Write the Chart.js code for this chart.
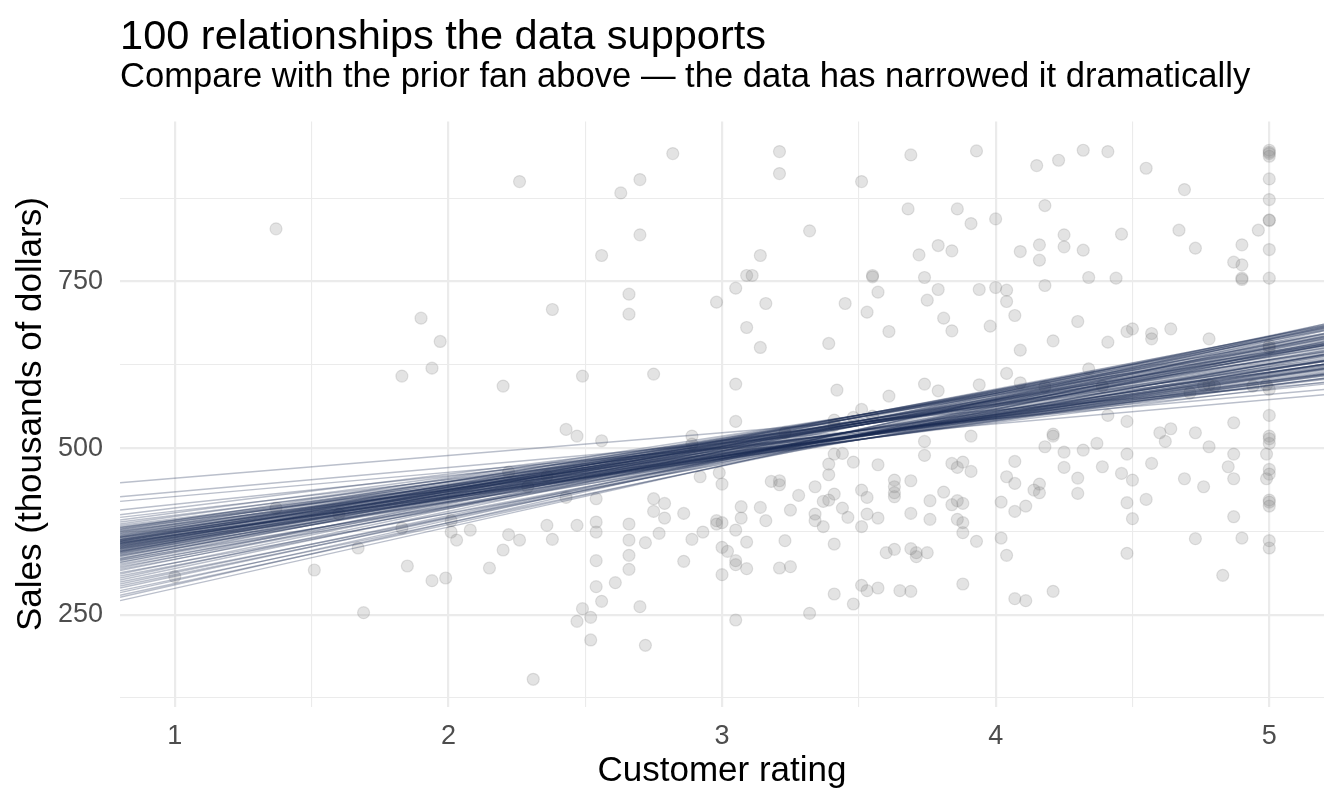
<!DOCTYPE html>
<html>
<head>
<meta charset="utf-8">
<title>100 relationships the data supports</title>
<script src="https://cdn.jsdelivr.net/npm/chart.js@4.4.1/dist/chart.umd.min.js"></script>
<style>
    html, body { margin: 0; padding: 0; background: #ffffff; }
    #chart { display: block; }
</style>
</head>
<body>
<canvas id="chart" width="1344" height="806"></canvas>
<script>
// observed stores: customer rating vs sales (thousands of dollars)
const ratingX = [
    2.26, 1.37, 1.90, 1.97, 1.94, 1.83, 2.20, 1.37, 1.00, 1.51,
    1.60, 1.67, 1.69, 1.83, 1.85, 1.94, 1.99, 2.01, 2.01, 2.03,
    2.08, 2.15, 2.20, 2.22, 2.26, 2.22, 2.29, 2.31, 2.36, 2.43,
    2.54, 2.82, 2.70, 2.63, 3.21, 3.21, 3.69, 3.51, 3.68, 2.70,
    3.32, 2.56, 3.14, 3.72, 3.09, 3.11, 3.55, 3.55, 3.74, 3.05,
    3.57, 3.75, 2.38, 2.66, 2.66, 2.98, 3.16, 3.45, 3.53, 3.09,
    3.61, 3.14, 3.39, 2.49, 2.75, 3.05, 3.42, 3.61, 3.74, 2.43,
    2.47, 2.56, 2.89, 2.89, 3.05, 3.23, 3.41, 3.41, 3.48, 3.55,
    3.51, 2.92, 2.99, 3.00, 3.39, 3.39, 3.41, 3.44, 3.48, 3.57,
    3.74, 3.74, 3.18, 3.21, 3.21, 3.34, 3.28, 3.51, 3.53, 3.63,
    3.63, 3.63, 3.63, 3.69, 3.76, 2.75, 2.79, 2.75, 2.79, 2.86,
    3.07, 3.07, 3.14, 3.16, 3.25, 3.34, 3.34, 3.37, 3.39, 3.41,
    3.44, 3.46, 3.37, 3.53, 3.57, 3.51, 3.69, 3.76, 2.36, 2.47,
    2.54, 2.54, 2.66, 2.38, 2.66, 2.72, 2.77, 2.89, 2.93, 2.98,
    2.98, 3.00, 3.05, 3.09, 3.23, 3.41, 3.00, 3.02, 3.05, 3.05,
    3.09, 3.21, 3.25, 3.00, 2.54, 2.66, 2.66, 2.86, 2.54, 2.61,
    2.56, 2.49, 2.47, 2.52, 2.52, 2.70, 2.72, 3.05, 3.32, 3.41,
    3.48, 3.51, 3.53, 3.57, 3.65, 3.69, 3.60, 3.63, 3.69, 3.71,
    3.71, 3.75, 3.93, 4.15, 4.23, 4.32, 4.41, 4.55, 4.69, 5.00,
    5.00, 5.00, 5.00, 5.00, 5.00, 5.00, 5.00, 5.00, 5.00, 5.00,
    5.00, 5.00, 4.99, 5.00, 3.86, 3.91, 4.00, 4.18, 3.79, 3.84,
    4.09, 4.16, 4.16, 4.25, 4.25, 4.32, 4.46, 4.67, 4.73, 4.90,
    4.96, 4.87, 4.90, 4.90, 4.90, 3.79, 3.94, 4.00, 4.04, 4.04,
    4.18, 4.34, 4.44, 3.81, 3.84, 3.98, 4.07, 4.30, 4.09, 4.21,
    4.41, 4.48, 4.50, 4.57, 4.57, 4.64, 4.78, 4.34, 3.79, 3.94,
    4.04, 4.09, 4.18, 4.39, 4.71, 4.78, 4.80, 4.94, 4.41, 4.48,
    4.87, 4.76, 3.91, 4.21, 4.21, 4.18, 4.25, 4.32, 4.37, 4.48,
    4.60, 4.64, 4.62, 4.73, 4.78, 4.87, 4.99, 5.00, 5.00, 5.00,
    3.84, 3.86, 3.88, 3.91, 4.07, 4.04, 4.07, 4.14, 4.16, 4.16,
    4.25, 4.30, 4.30, 4.39, 4.46, 4.50, 4.57, 4.69, 4.76, 4.85,
    4.87, 4.99, 5.00, 5.00, 5.00, 5.00, 5.00, 4.48, 4.55, 4.50,
    4.87, 3.81, 3.84, 3.86, 3.88, 3.86, 3.88, 3.88, 3.93, 4.02,
    4.07, 4.11, 4.02, 4.04, 4.48, 4.73, 4.90, 5.00, 5.00, 4.83,
    3.88, 4.07, 4.11, 4.21
];
const salesY = [
    900, 829, 695, 660, 620, 608, 593, 410, 307, 317,
    401, 350, 253, 380, 323, 301, 305, 391, 374, 362,
    377, 320, 347, 370, 362, 464, 442, 153, 458, 426,
    424, 942, 903, 883, 945, 912, 940, 900, 859, 820,
    826, 789, 789, 790, 759, 759, 759, 757, 756, 740,
    734, 722, 708, 731, 701, 719, 717, 717, 704, 681,
    675, 651, 657, 608, 611, 596, 587, 578, 596, 528,
    518, 511, 518, 506, 540, 523, 542, 534, 546, 548,
    558, 457, 463, 446, 476, 460, 491, 492, 479, 475,
    510, 489, 450, 451, 445, 442, 429, 437, 426, 452,
    442, 433, 427, 451, 421, 424, 417, 405, 395, 402,
    412, 395, 411, 391, 407, 401, 391, 420, 422, 431,
    410, 396, 382, 401, 395, 382, 402, 393, 384, 384,
    389, 374, 386, 363, 362, 358, 372, 363, 374, 391,
    386, 388, 377, 359, 361, 356, 351, 345, 331, 325,
    319, 320, 322, 310, 331, 339, 318, 330, 292, 298,
    270, 259, 240, 246, 212, 262, 204, 242, 252, 281,
    266, 294, 286, 290, 286, 285, 343, 348, 349, 343,
    337, 343, 946, 924, 932, 947, 945, 920, 888, 947,
    944, 942, 938, 904, 873, 842, 842, 798, 755, 654,
    650, 588, 595, 549, 859, 837, 844, 864, 804, 796,
    795, 805, 782, 820, 802, 797, 821, 827, 800, 805,
    827, 779, 775, 755, 753, 738, 738, 741, 737, 720,
    744, 756, 755, 695, 676, 683, 699, 690, 647, 661,
    659, 675, 679, 672, 664, 679, 664, 619, 586, 595,
    612, 598, 592, 593, 583, 595, 593, 593, 549, 540,
    538, 594, 518, 518, 521, 502, 494, 497, 507, 491,
    523, 529, 510, 523, 502, 491, 491, 518, 514, 507,
    477, 471, 479, 465, 480, 457, 447, 437, 446, 433,
    471, 455, 432, 472, 462, 452, 477, 454, 442, 472,
    454, 454, 468, 461, 422, 419, 413, 418, 423, 394,
    397, 434, 415, 421, 417, 393, 388, 373, 360, 419,
    405, 413, 365, 339, 342, 364, 365, 361, 350, 309,
    296, 274, 271, 285
];

// 100 fitted lines: sales at the left (rating 0.8) and right (rating 5.2) panel edges
const lineEnds = [0.8, 5.2];
const drawLeft = [
    448, 427, 420, 407, 400, 396, 392, 389, 386, 384,
    271, 276, 279, 283, 286, 290, 293, 296, 299, 302,
    305, 308, 311, 313, 316, 318, 320, 322, 324, 326,
    328, 329, 331, 332, 334, 335, 337, 338, 339, 340,
    341, 342, 343, 344, 345, 346, 347, 348, 349, 350,
    350, 351, 352, 353, 353, 354, 355, 355, 356, 357,
    357, 358, 359, 359, 360, 361, 361, 362, 363, 363,
    364, 365, 366, 366, 367, 368, 369, 370, 371, 372,
    373, 374, 375, 376, 377, 378, 379, 380, 381, 382,
    333, 346, 352, 358, 362, 367, 344, 356, 360, 349
];
const drawRight = [
    598, 588, 580, 596, 624, 603, 630, 611, 633, 608,
    676, 686, 668, 682, 660, 678, 664, 672, 655, 680,
    686, 654, 680, 638, 682, 657, 684, 641, 666, 640,
    684, 640, 667, 626, 671, 647, 683, 631, 657, 631,
    676, 632, 659, 619, 664, 640, 677, 624, 651, 625,
    670, 626, 654, 613, 659, 635, 672, 620, 646, 621,
    666, 622, 649, 609, 655, 630, 668, 615, 642, 617,
    661, 618, 645, 605, 650, 626, 663, 610, 637, 611,
    656, 612, 639, 599, 644, 619, 657, 604, 631, 605,
    681, 630, 654, 610, 653, 626, 679, 619, 644, 626
];

const xTicks = [1, 2, 3, 4, 5];
const xMinor = [1.5, 2.5, 3.5, 4.5];
const yTicks = [250, 500, 750];
const yMinor = [125, 375, 625, 875];

const FONT = "'Liberation Sans', Arial, Helvetica, sans-serif";
Chart.defaults.font.family = FONT;

let datasets = [];

// fitted lines first so they are drawn over the points
for (let i = 0; i < drawLeft.length; i++) {
    datasets.push({
        data: [
            { x: lineEnds[0], y: drawLeft[i] },
            { x: lineEnds[1], y: drawRight[i] }
        ],
        showLine: true,
        borderColor: 'rgba(28, 42, 82, 0.3)',
        borderWidth: 1.4,
        pointRadius: 0,
        pointHoverRadius: 0,
        fill: false
    });
}

let points = [];
for (let i = 0; i < ratingX.length; i++) {
    points.push({ x: ratingX[i], y: salesY[i] });
}
datasets.push({
    data: points,
    pointRadius: 6,
    pointHoverRadius: 6,
    backgroundColor: 'rgba(127, 127, 127, 0.22)',
    borderColor: 'rgba(127, 127, 127, 0.22)',
    borderWidth: 1.2
});

function gridWidth(major) {
    return function(ctx) {
        if (!ctx.tick) return 0;
        return major.includes(ctx.tick.value) ? 2.2 : 1.1;
    };
}

new Chart(document.getElementById('chart'), {
    type: 'scatter',
    data: { datasets: datasets },
    options: {
        responsive: false,
        animation: false,
        devicePixelRatio: 1,
        layout: {
            padding: { left: 0, right: 20, top: 0, bottom: 17 }
        },
        plugins: {
            legend: { display: false },
            tooltip: { enabled: false },
            title: {
                display: true,
                text: '100 relationships the data supports',
                align: 'start',
                fullSize: false,
                color: '#000000',
                font: { size: 41.5, weight: 'normal', lineHeight: 1.0 },
                padding: { top: 16.5, bottom: 0 }
            },
            subtitle: {
                display: true,
                text: 'Compare with the prior fan above \u2014 the data has narrowed it dramatically',
                align: 'start',
                fullSize: false,
                color: '#000000',
                font: { size: 34.6, weight: 'normal', lineHeight: 1.0 },
                padding: { top: 2.5, bottom: 26.5 }
            }
        },
        scales: {
            x: {
                type: 'linear',
                min: 0.8,
                max: 5.2,
                afterBuildTicks: function(scale) {
                    scale.ticks = xTicks.concat(xMinor).sort((a, b) => a - b).map(v => ({ value: v }));
                },
                ticks: {
                    autoSkip: false,
                    maxRotation: 0,
                    padding: 14,
                    color: '#4d4d4d',
                    font: { size: 27 },
                    callback: function(value) {
                        return xTicks.includes(value) ? String(value) : '';
                    }
                },
                grid: {
                    color: '#ebebeb',
                    lineWidth: gridWidth(xTicks),
                    drawTicks: false
                },
                border: { display: false },
                title: {
                    display: true,
                    text: 'Customer rating',
                    color: '#000000',
                    font: { size: 35, lineHeight: 1.0 },
                    padding: { top: -13, bottom: 0 }
                }
            },
            y: {
                type: 'linear',
                min: 112,
                max: 990,
                afterBuildTicks: function(scale) {
                    scale.ticks = yTicks.concat(yMinor).sort((a, b) => a - b).map(v => ({ value: v }));
                },
                ticks: {
                    autoSkip: false,
                    padding: 17,
                    color: '#4d4d4d',
                    font: { size: 27 },
                    callback: function(value) {
                        return yTicks.includes(value) ? String(value) : '';
                    }
                },
                grid: {
                    color: '#ebebeb',
                    lineWidth: gridWidth(yTicks),
                    drawTicks: false
                },
                border: { display: false },
                title: {
                    display: true,
                    text: 'Sales (thousands of dollars)',
                    color: '#000000',
                    font: { size: 35, lineHeight: 1.0 },
                    padding: { top: 13.5, bottom: -7.5 }
                }
            }
        }
    }
});
</script>
</body>
</html>
